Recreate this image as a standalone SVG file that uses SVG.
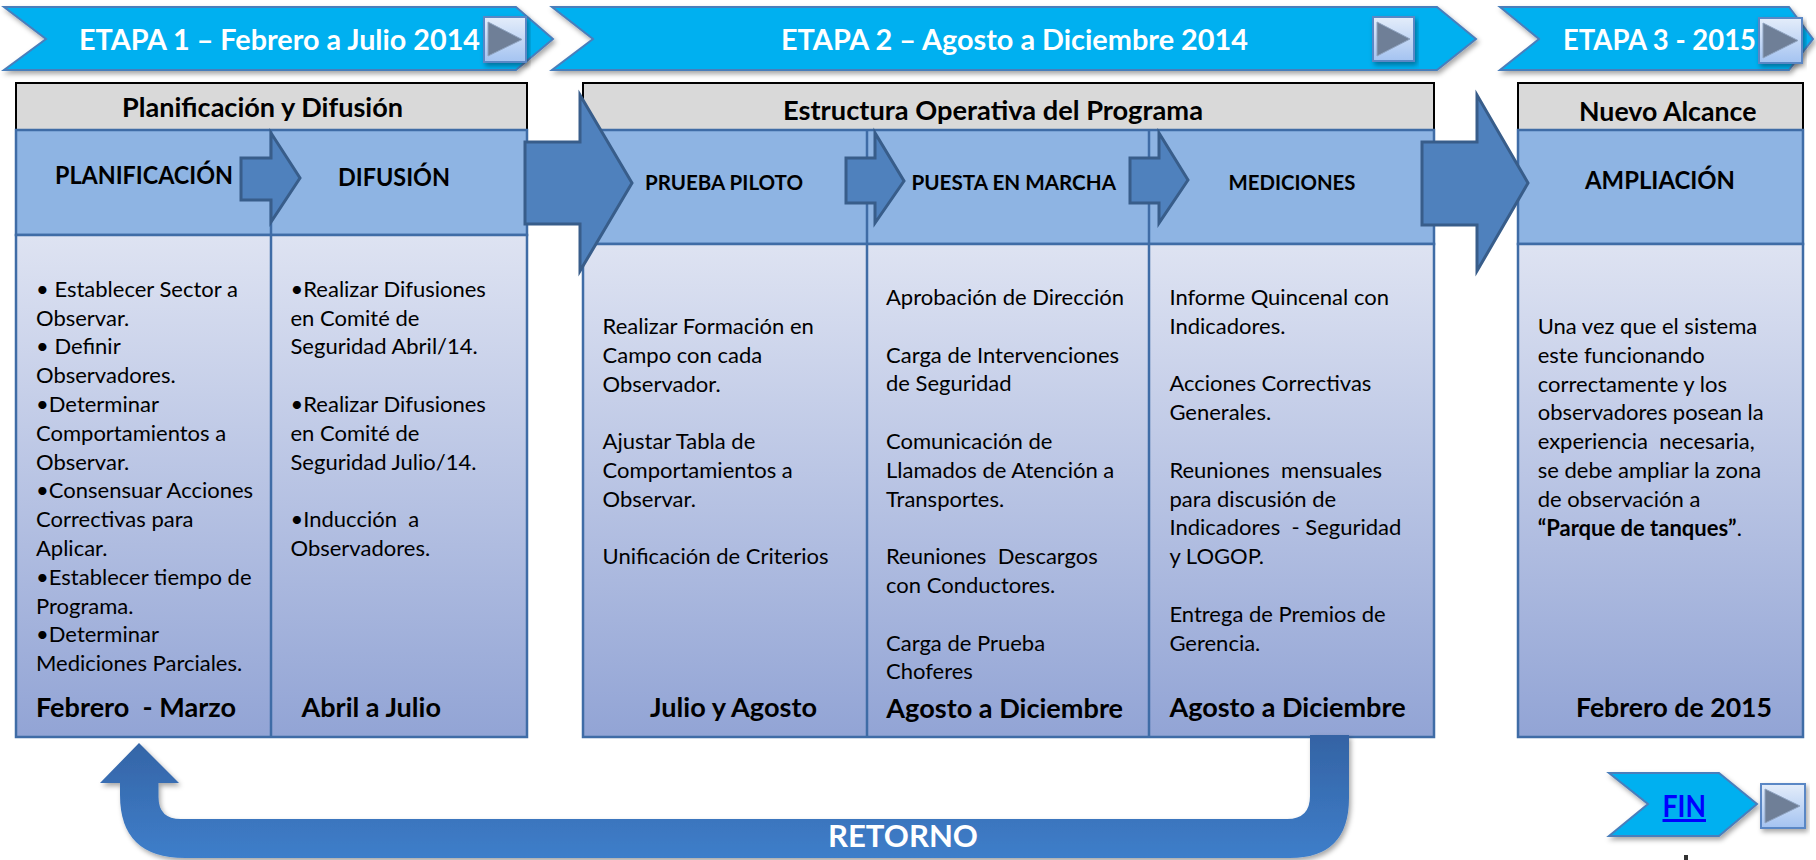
<svg xmlns="http://www.w3.org/2000/svg" width="1816" height="860" viewBox="0 0 1816 860">
<style>
.rib{fill:#00B0F0;stroke:#4A7EBB;stroke-width:2}
.rt{font-family:Lato,'Open Sans',sans-serif;font-weight:bold;font-size:29px;fill:#fff}
.hdr{fill:#D9D9D9;stroke:#000;stroke-width:2}
.row{fill:#8EB4E3;stroke:#3F6CA6;stroke-width:2.5}
.cnt{fill:url(#cg);stroke:#3F6CA6;stroke-width:2.5}
.div{stroke:#3F6CA6;stroke-width:2.5}
.ht{font-family:Lato,'Open Sans',sans-serif;font-weight:bold;font-size:26px;fill:#000}
.lt{font-family:Lato,'Open Sans',sans-serif;font-weight:bold;font-size:24px;fill:#000}
.ls{font-family:Lato,'Open Sans',sans-serif;font-weight:bold;font-size:20px;fill:#000}
.bt{font-family:Lato,'Open Sans',sans-serif;font-size:22px;fill:#000;white-space:pre}
.bb{font-family:Lato,'Open Sans',sans-serif;font-weight:bold;font-size:26px;fill:#000;white-space:pre}
.arr{fill:#4F81BD;stroke:#385D8A;stroke-width:3;stroke-linejoin:miter}
.btn{fill:url(#bg);stroke:#5A87C5;stroke-width:2}
.tri{fill:#6F7F97;stroke:#8FA3C0;stroke-width:1}
</style>
<defs>
<linearGradient id="cg" x1="0" y1="0" x2="0" y2="1">
<stop offset="0" stop-color="#DEE3F2"/>
<stop offset="1" stop-color="#92A4D5"/>
</linearGradient>
<linearGradient id="bg" x1="0" y1="0" x2="0" y2="1">
<stop offset="0" stop-color="#E4EDFA"/>
<stop offset="1" stop-color="#A4C3F1"/>
</linearGradient>
<linearGradient id="rg" gradientUnits="userSpaceOnUse" x1="0" y1="735" x2="0" y2="858">
<stop offset="0" stop-color="#3463A4"/>
<stop offset="1" stop-color="#3E7ECA"/>
</linearGradient>
<filter id="sh" x="-10%" y="-20%" width="120%" height="160%">
<feDropShadow dx="2" dy="3" stdDeviation="2.5" flood-color="#000" flood-opacity="0.35"/>
</filter>
</defs>

<g id="ribbon1">
<polygon class="rib" filter="url(#sh)" points="4,7 516,7 553,39 516,70 4,70 46,39"/>
<text class="rt" x="79" y="50" textLength="401" lengthAdjust="spacingAndGlyphs">ETAPA 1 – Febrero a Julio 2014</text>
<rect class="btn" filter="url(#sh)" x="484" y="17" width="42" height="45"/>
<polygon class="tri" points="488,22 522,39.5 488,56"/>
</g>
<g id="ribbon2">
<polygon class="rib" filter="url(#sh)" points="552,7 1437,7 1476,39 1437,70 552,70 593,39"/>
<text class="rt" x="781" y="50" textLength="467" lengthAdjust="spacingAndGlyphs">ETAPA 2 – Agosto a Diciembre 2014</text>
<rect class="btn" filter="url(#sh)" x="1373" y="17" width="41" height="44"/>
<polygon class="tri" points="1377,22 1410,39 1377,56"/>
</g>
<g id="ribbon3">
<polygon class="rib" filter="url(#sh)" points="1500,7 1789,7 1813,39 1789,70 1500,70 1539,39"/>
<text class="rt" x="1563" y="50" textLength="193" lengthAdjust="spacingAndGlyphs">ETAPA 3 - 2015</text>
<rect class="btn" filter="url(#sh)" x="1759" y="18" width="43" height="45"/>
<polygon class="tri" points="1763,23 1798,40.5 1763,58"/>
</g>

<g id="box1">
<rect class="hdr" x="16" y="83" width="511" height="47"/>
<rect class="row" x="16" y="130" width="511" height="105"/>
<rect class="cnt" x="16" y="235" width="511" height="502"/>
<line class="div" x1="271" y1="130" x2="271" y2="737"/>
<text class="ht" x="122" y="117" textLength="281" lengthAdjust="spacingAndGlyphs">Planificación y Difusión</text>
<text class="lt" x="55" y="184" textLength="178" lengthAdjust="spacingAndGlyphs">PLANIFICACIÓN</text>
<text class="lt" x="338" y="186" textLength="112" lengthAdjust="spacingAndGlyphs">DIFUSIÓN</text>
<text class="bt" x="36" y="296.7">• Establecer Sector a</text>
<text class="bt" x="36" y="325.5">Observar.</text>
<text class="bt" x="36" y="354.3">• Definir</text>
<text class="bt" x="36" y="383.1">Observadores.</text>
<text class="bt" x="36" y="411.9">•Determinar</text>
<text class="bt" x="36" y="440.7">Comportamientos a</text>
<text class="bt" x="36" y="469.5">Observar.</text>
<text class="bt" x="36" y="498.3">•Consensuar Acciones</text>
<text class="bt" x="36" y="527.1">Correctivas para</text>
<text class="bt" x="36" y="555.9">Aplicar.</text>
<text class="bt" x="36" y="584.7">•Establecer tiempo de</text>
<text class="bt" x="36" y="613.5">Programa.</text>
<text class="bt" x="36" y="642.3">•Determinar</text>
<text class="bt" x="36" y="671.1">Mediciones Parciales.</text>
<text class="bt" x="290.5" y="296.7">•Realizar Difusiones</text>
<text class="bt" x="290.5" y="325.5">en Comité de</text>
<text class="bt" x="290.5" y="354.3">Seguridad Abril/14.</text>
<text class="bt" x="290.5" y="411.9">•Realizar Difusiones</text>
<text class="bt" x="290.5" y="440.7">en Comité de</text>
<text class="bt" x="290.5" y="469.5">Seguridad Julio/14.</text>
<text class="bt" x="290.5" y="527.1">•Inducción  a</text>
<text class="bt" x="290.5" y="555.9">Observadores.</text>
<text class="bb" x="36" y="716.5" textLength="200" lengthAdjust="spacingAndGlyphs">Febrero  - Marzo</text>
<text class="bb" x="301.5" y="716.5" textLength="139.5" lengthAdjust="spacingAndGlyphs">Abril a Julio</text>
</g>

<g id="box2">
<rect class="hdr" x="583" y="83" width="851" height="47"/>
<rect class="row" x="583" y="130" width="851" height="114"/>
<rect class="cnt" x="583" y="244" width="851" height="493"/>
<line class="div" x1="867" y1="130" x2="867" y2="737"/>
<line class="div" x1="1149" y1="130" x2="1149" y2="737"/>
<text class="ht" x="783" y="120" textLength="420" lengthAdjust="spacingAndGlyphs">Estructura Operativa del Programa</text>
<text class="ls" x="645" y="190" textLength="158" lengthAdjust="spacingAndGlyphs">PRUEBA PILOTO</text>
<text class="ls" x="911.5" y="190" textLength="204.5" lengthAdjust="spacingAndGlyphs">PUESTA EN MARCHA</text>
<text class="ls" x="1228.5" y="190" textLength="127" lengthAdjust="spacingAndGlyphs">MEDICIONES</text>
<text class="bt" x="602.6" y="334">Realizar Formación en</text>
<text class="bt" x="602.6" y="362.8">Campo con cada</text>
<text class="bt" x="602.6" y="391.6">Observador.</text>
<text class="bt" x="602.6" y="449.2">Ajustar Tabla de</text>
<text class="bt" x="602.6" y="478">Comportamientos a</text>
<text class="bt" x="602.6" y="506.8">Observar.</text>
<text class="bt" x="602.6" y="564.4">Unificación de Criterios</text>
<text class="bt" x="886" y="305">Aprobación de Dirección</text>
<text class="bt" x="886" y="362.6">Carga de Intervenciones</text>
<text class="bt" x="886" y="391.4">de Seguridad</text>
<text class="bt" x="886" y="449">Comunicación de</text>
<text class="bt" x="886" y="477.8">Llamados de Atención a</text>
<text class="bt" x="886" y="506.6">Transportes.</text>
<text class="bt" x="886" y="564.2">Reuniones  Descargos</text>
<text class="bt" x="886" y="593">con Conductores.</text>
<text class="bt" x="886" y="650.6">Carga de Prueba</text>
<text class="bt" x="886" y="679.4">Choferes</text>
<text class="bt" x="1169.4" y="305">Informe Quincenal con</text>
<text class="bt" x="1169.4" y="333.8">Indicadores.</text>
<text class="bt" x="1169.4" y="391.4">Acciones Correctivas</text>
<text class="bt" x="1169.4" y="420.2">Generales.</text>
<text class="bt" x="1169.4" y="477.8">Reuniones  mensuales</text>
<text class="bt" x="1169.4" y="506.6">para discusión de</text>
<text class="bt" x="1169.4" y="535.4">Indicadores  - Seguridad</text>
<text class="bt" x="1169.4" y="564.2">y LOGOP.</text>
<text class="bt" x="1169.4" y="621.8">Entrega de Premios de</text>
<text class="bt" x="1169.4" y="650.6">Gerencia.</text>
<text class="bb" x="650" y="716.5" textLength="167" lengthAdjust="spacingAndGlyphs">Julio y Agosto</text>
<text class="bb" x="886.3" y="717.5" textLength="236.8" lengthAdjust="spacingAndGlyphs">Agosto a Diciembre</text>
<text class="bb" x="1169.4" y="716.5" textLength="236.2" lengthAdjust="spacingAndGlyphs">Agosto a Diciembre</text>
</g>

<g id="box3">
<rect class="hdr" x="1518" y="83" width="285" height="47"/>
<rect class="row" x="1518" y="130" width="285" height="114"/>
<rect class="cnt" x="1518" y="244" width="285" height="493"/>
<text class="ht" x="1579" y="121" textLength="177.5" lengthAdjust="spacingAndGlyphs">Nuevo Alcance</text>
<text class="lt" x="1585" y="188.5" textLength="150" lengthAdjust="spacingAndGlyphs">AMPLIACIÓN</text>
<text class="bt" x="1537.7" y="334">Una vez que el sistema</text>
<text class="bt" x="1537.7" y="362.8">este funcionando</text>
<text class="bt" x="1537.7" y="391.6">correctamente y los</text>
<text class="bt" x="1537.7" y="420.4">observadores posean la</text>
<text class="bt" x="1537.7" y="449.2">experiencia  necesaria,</text>
<text class="bt" x="1537.7" y="478">se debe ampliar la zona</text>
<text class="bt" x="1537.7" y="506.8">de observación a</text>
<text class="bt" x="1537.7" y="535.6"><tspan font-weight="bold">“Parque de tanques”</tspan>.</text>
<text class="bb" x="1576" y="716.5" textLength="196" lengthAdjust="spacingAndGlyphs">Febrero de 2015</text>
</g>

<g id="connectors">
<polygon class="arr" points="525,142 580,142 580,95 632,183 580,271 580,224 525,224"/>
<polygon class="arr" points="1422,142 1477,142 1477,95 1528,183 1477,271 1477,225 1422,225"/>
<polygon class="arr" points="241,158 271,158 271,133 300,178 271,222 271,200 241,200"/>
<polygon class="arr" points="846,158 875,158 875,133 904,181 875,223 875,203 846,203"/>
<polygon class="arr" points="1130,158 1159,158 1159,133 1188,180 1159,223 1159,203 1130,203"/>
<path id="retorno" fill="url(#rg)" filter="url(#sh)" d="M139,743 L179,783 L158.5,783 L158.5,797 Q158.5,819 181,819 L1287,819 Q1310,819 1310,796 L1310,735 L1349,735 L1349,798 Q1349,858 1290,858 L185,858 Q120,858 120,795 L120,783 L100,783 Z"/>
<text x="903" y="847" text-anchor="middle" font-family="Lato,'Open Sans',sans-serif" font-weight="bold" font-size="30" fill="#fff" textLength="150" lengthAdjust="spacingAndGlyphs">RETORNO</text>
</g>

<g id="fin">
<polygon class="rib" filter="url(#sh)" points="1609,773 1719,773 1757,804 1719,836 1609,836 1648,804"/>
<text x="1662.5" y="817" font-family="Lato,'Open Sans',sans-serif" font-weight="bold" font-size="30" fill="#0000FF" text-decoration="underline" textLength="43.5" lengthAdjust="spacingAndGlyphs">FIN</text>
<rect class="btn" filter="url(#sh)" x="1761" y="784" width="44" height="44"/>
<polygon class="tri" points="1765,789 1800,806 1765,823"/>
</g>
<rect x="1684" y="855" width="4" height="5" fill="#333"/>
</svg>
